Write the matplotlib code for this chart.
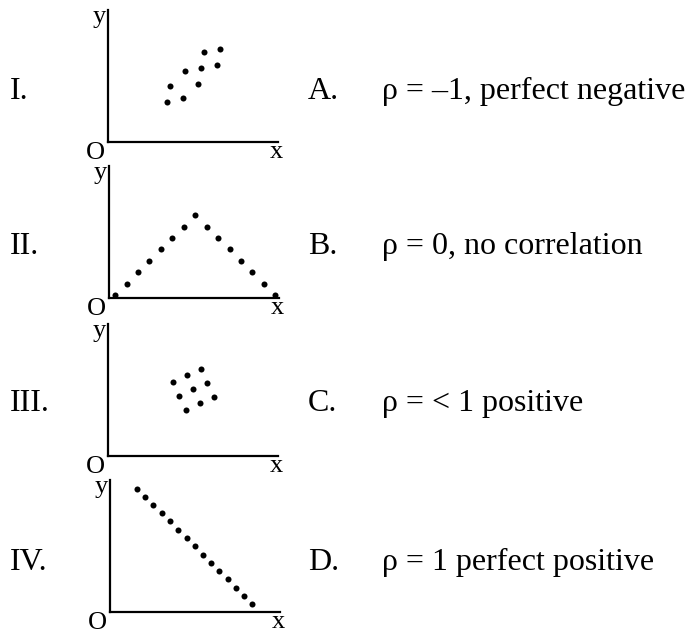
import matplotlib
matplotlib.use("Agg")
import matplotlib.pyplot as plt

plt.rcParams['font.family'] = ['Liberation Serif', 'DejaVu Serif']

W, H = 689, 632

# Data (offsets from each plot's origin, in pixel-like units)
p1_x = [58.7, 62.0, 75.3, 77.0, 89.7, 92.7, 96.0, 108.7, 112.3]
p1_y = [39.7, 56.3, 43.7, 71.0, 58.0, 74.0, 90.3, 77.3, 93.3]

p2_x = [5.7, 17.4, 28.7, 40.0, 51.4, 63.0, 74.4, 85.7, 97.4, 108.7, 120.4, 131.7, 143.0, 154.4, 166.0]
p2_y = [3.0, 14.6, 26.0, 37.6, 49.0, 60.3, 71.6, 83.6, 71.6, 60.3, 49.0, 37.6, 26.0, 14.6, 3.0]

p3_x = [64.4, 78.4, 92.4, 85.0, 99.0, 71.0, 105.7, 91.7, 77.7]
p3_y = [73.7, 80.7, 87.0, 66.4, 73.0, 59.4, 59.0, 52.4, 45.7]

p4_x = [27.0, 35.3, 43.3, 51.7, 60.0, 68.3, 76.7, 84.7, 93.0, 101.3, 109.3, 117.7, 125.7, 134.0, 142.3]
p4_y = [123.6, 115.6, 107.3, 99.0, 91.0, 82.3, 74.3, 66.0, 57.6, 49.3, 41.3, 33.0, 24.6, 16.3, 8.3]

numerals = ["I.", "II.", "III.", "IV."]
letters = ["A.", "B.", "C.", "D."]
descriptions = ["\u03c1 = \u20131, perfect negative", "\u03c1 = 0, no correlation",
                "\u03c1 = < 1 positive", "\u03c1 = 1 perfect positive"]

datasets = [(p1_x, p1_y), (p2_x, p2_y), (p3_x, p3_y), (p4_x, p4_y)]
# layout: origin px (x, y from top), width, height
origins = [(108, 142), (109.3, 298.3), (108.3, 455.7), (110, 612.3)]
aw, ah = 170, 132
baselines = [99, 254, 411, 570]

fig = plt.figure(figsize=(W / 100, H / 100), dpi=100)
fig.patch.set_facecolor('white')

def ftext(x, y, s, **kw):
    fig.text(x / W, 1 - y / H, s, **kw)

for (xs, ys), (ox, oy), bl, num, let, desc in zip(datasets, origins, baselines,
                                                  numerals, letters, descriptions):
    ax = fig.add_axes([ox / W, 1 - oy / H, aw / W, ah / H])
    ax.set_xlim(0, aw)
    ax.set_ylim(0, ah)
    ax.scatter(xs, ys, s=19, color='black', linewidths=0, clip_on=False)
    for side in ['top', 'right']:
        ax.spines[side].set_visible(False)
    for side in ['left', 'bottom']:
        ax.spines[side].set_linewidth(1.6)
        ax.spines[side].set_color('black')
    ax.set_xticks([])
    ax.set_yticks([])
    ax.patch.set_alpha(0)

    ftext(ox - 2, oy - ah + 13, "y", fontsize=19, ha='right', va='baseline')
    ftext(ox - 3, oy + 17, "O", fontsize=19, ha='right', va='baseline')
    ftext(ox + aw - 2, oy + 16, "x", fontsize=19, ha='center', va='baseline')

    ftext(10, bl, num, fontsize=23, ha='left', va='baseline')
    ftext(308, bl, let, fontsize=23, ha='left', va='baseline')
    ftext(382, bl, desc, fontsize=23, ha='left', va='baseline')

fig.savefig("out.png", dpi=100, facecolor='white')
